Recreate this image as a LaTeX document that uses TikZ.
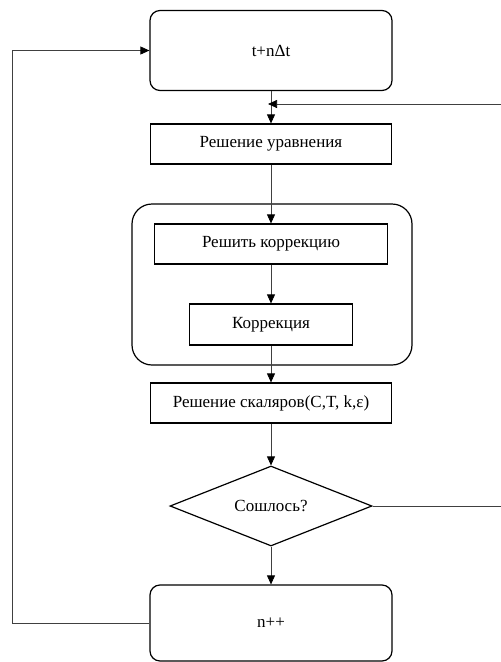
\documentclass[tikz,border=0pt]{standalone}
\usepackage{fontspec}
\setmainfont{Liberation Serif}
\usetikzlibrary{shapes.geometric,arrows.meta}

\begin{document}
\begin{tikzpicture}[x=1pt,y=-1pt,
    font=\fontsize{17}{20}\selectfont,
    block/.style={draw,line width=1.2pt,minimum height=40pt,inner sep=0pt},
    stage/.style={draw,line width=1.2pt,rounded corners=10pt,minimum width=242pt},
    test/.style={draw,line width=1.2pt,diamond,aspect=2.5,minimum width=202pt,minimum height=80pt,inner sep=0pt},
    link/.style={-{Triangle[width=8pt,length=9pt,black]},black!75,line width=0.7pt},
    wire/.style={black!75,line width=0.7pt}]
    \useasboundingbox (0,0) rectangle (501,662);

    % time step and inner loop group
    \node[stage,minimum height=80pt] (step0) at (271,50.5) {t+nΔt};
    \node[draw,line width=1.2pt,rounded corners=20pt,minimum width=280pt,minimum height=161pt] (grp) at (272,284.5) {};

    \node[block,minimum width=241pt] (eqn) at (271,144) {Решение уравнения};
    \node[block,minimum width=233pt] (solvecorr) at (271,244) {Решить коррекцию};
    \node[block,minimum width=163pt,minimum height=41pt] (corr) at (271,324.5) {Коррекция};
    \node[block,minimum width=241pt] (scal) at (271,403) {Решение скаляров(C,T, k,ε)};
    \node[test] (conv) at (271,506) {Сошлось?};
    \node[stage,minimum height=76pt] (incr) at (271,623) {n++};

    % main chain
    \draw[link] (step0) -- (eqn);
    \draw[link] (eqn) -- (solvecorr);
    \draw[link] (solvecorr) -- (corr);
    \draw[link] (corr) -- (scal);
    \draw[link] (scal) -- (conv);
    \draw[link] (conv) -- (incr);

    % back edges
    \coordinate (back) at (501,104);
    \coordinate (out) at (501,506);
    \draw[link,shorten >=-3pt] (back) -- (back -| eqn.north);
    \draw[wire] (conv.east) -- (out);
    \draw[link] (incr.west) -- (12,623) |- (step0.west);
\end{tikzpicture}
\end{document}
